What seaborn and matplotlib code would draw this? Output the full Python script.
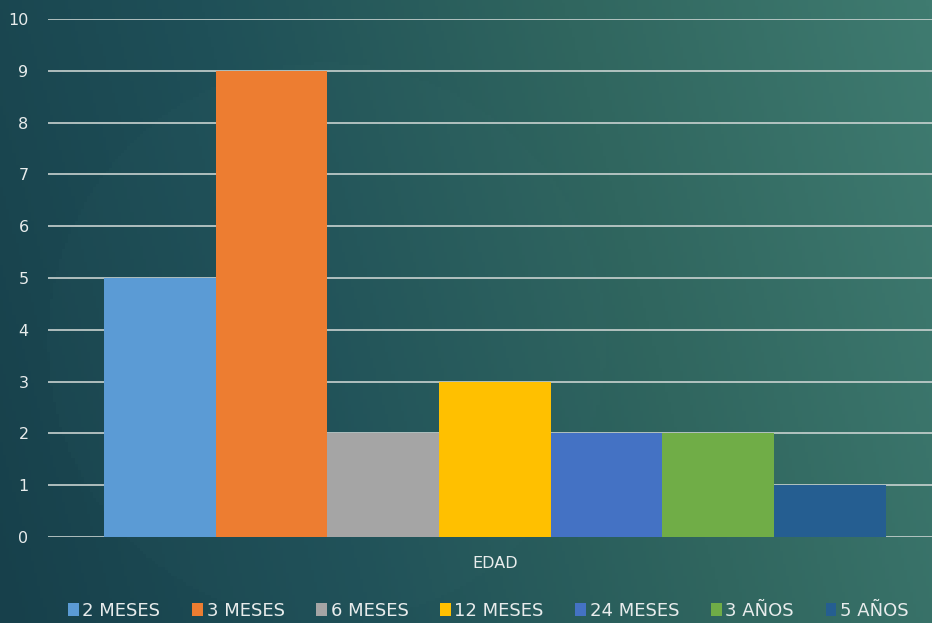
import numpy as np
import pandas as pd
import matplotlib
matplotlib.use("Agg")
import matplotlib.pyplot as plt
import seaborn as sns
from matplotlib.colors import LinearSegmentedColormap

categories = ["EDAD"]
series = ["2 MESES", "3 MESES", "6 MESES", "12 MESES", "24 MESES", "3 AÑOS", "5 AÑOS"]
values = [5, 9, 2, 3, 2, 2, 1]
colors = ["#5b9bd5", "#ed7d31", "#a5a5a5", "#ffc000", "#4472c4", "#70ad47", "#255e91"]
yticks = list(range(0, 11))

df = pd.DataFrame({"cat": categories * len(series), "serie": series, "valor": values})

sns.set_theme(style="white")
plt.rcParams['font.family'] = ['DejaVu Sans']
fig = plt.figure(figsize=(9.32, 6.23), dpi=100)

# background gradient
bg = fig.add_axes([0, 0, 1, 1], zorder=0)
bg.axis("off")
h, w = 200, 300
xx, yy = np.meshgrid(np.linspace(0, 1, w), np.linspace(0, 1, h))
t = 0.85 * xx + 0.15 * (1 - yy)
t = np.clip(t, 0, 1)
cmap = LinearSegmentedColormap.from_list("bg", ["#17404b", "#1f5058", "#30665f", "#3f7b70"])
img = cmap(t)
# faint circle
cx, cy, r = 0.35, 0.55, 0.45
d = np.sqrt(((xx - cx) * 1.5) ** 2 + (yy - cy) ** 2)
mask = (d < r)[..., None]
img[..., :3] = np.where(mask, img[..., :3] * 0.95 + 0.05 * np.array([0.25, 0.45, 0.45]), img[..., :3])
bg.imshow(img, aspect="auto", extent=[0, 1, 0, 1], origin="upper")
bg.set_xlim(0, 1); bg.set_ylim(0, 1)

ax = fig.add_axes([48/932, 1 - 537/623, 1 - 48/932, (537 - 19)/623], zorder=1)
ax.patch.set_alpha(0)
sns.barplot(data=df, x="cat", y="valor", hue="serie", palette=colors, ax=ax,
            width=0.8, gap=0, saturation=1, edgecolor="none", legend=False, zorder=3)
ax.set_ylim(0, 10)
ax.set_xlim(-0.4575, 0.4475)
ax.set_yticks(yticks)
ax.set_yticklabels([str(v) for v in yticks], color="#e8ecec", fontsize=11.5)
ax.tick_params(axis="y", length=0, pad=14)
ax.tick_params(axis="x", length=0, pad=14, labelsize=11.5, labelcolor="#e8ecec")
ax.set_xlabel(""); ax.set_ylabel("")
for s in ax.spines.values():
    s.set_visible(False)
ax.grid(axis="y", color="#c8d2d0", linewidth=1.2, zorder=0)
ax.set_axisbelow(True)

from matplotlib.patches import Patch
handles = [Patch(facecolor=c, edgecolor="none") for c in colors]
leg = fig.legend(handles, series, loc="center", bbox_to_anchor=(0.524, 1 - 611/623), ncol=7,
                 frameon=False, fontsize=13, handlelength=0.6, handleheight=0.75,
                 handletextpad=0.2, columnspacing=1.75, labelcolor="#e8ecec")

fig.savefig("out.png", dpi=100)
